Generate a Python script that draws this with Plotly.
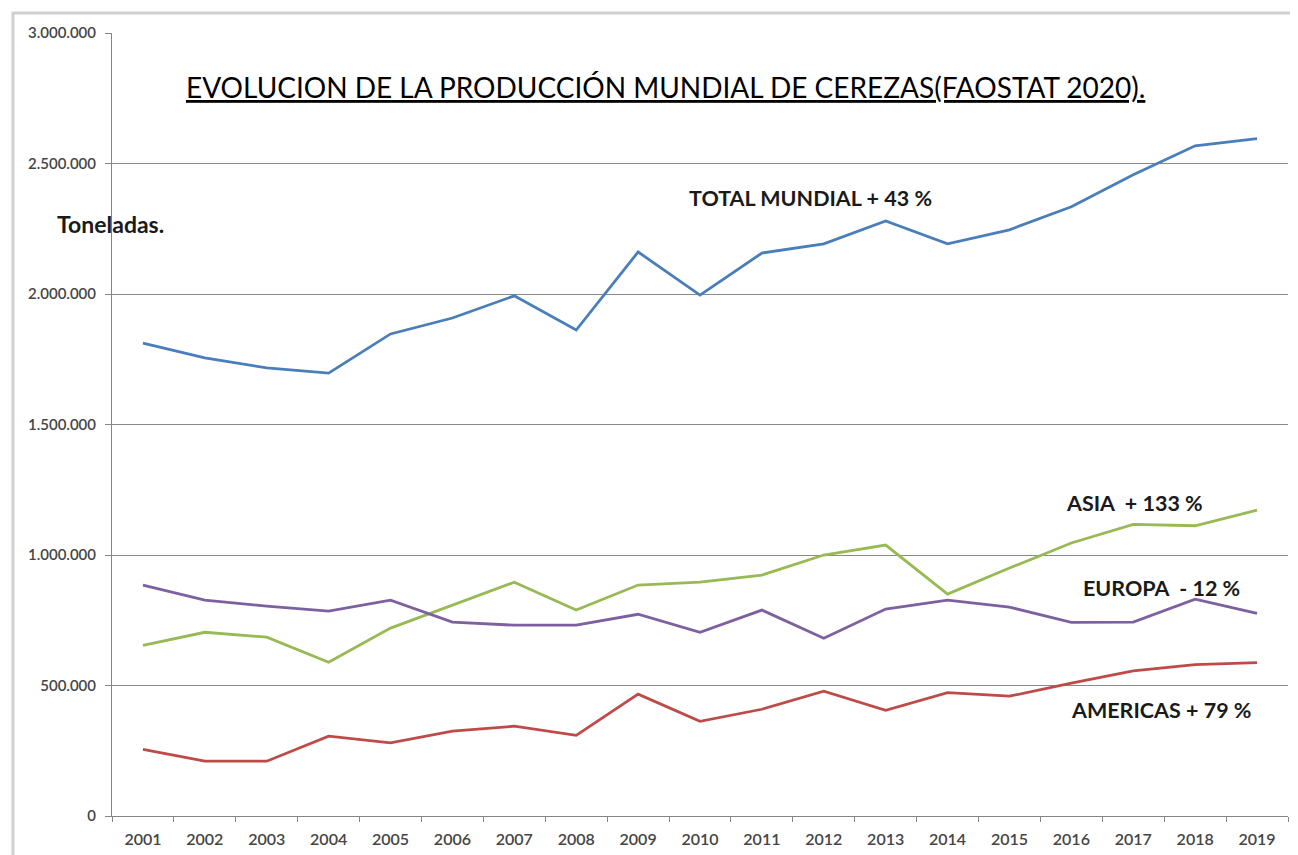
import plotly.graph_objects as go

years = [str(y) for y in range(2001, 2020)]
total_mundial = [1812000, 1755000, 1717000, 1697000, 1847000, 1908000, 1993000, 1862000, 2161000, 1996000,
                 2157000, 2192000, 2280000, 2192000, 2246000, 2334000, 2457000, 2568000, 2595000]
asia = [654000, 704000, 685000, 589000, 720000, 808000, 896000, 789000, 885000, 896000,
        923000, 1000000, 1038000, 850000, 950000, 1046000, 1117000, 1112000, 1172000]
europa = [885000, 827000, 804000, 785000, 827000, 743000, 731000, 731000, 773000, 704000,
          789000, 681000, 793000, 827000, 800000, 742000, 743000, 831000, 776000]
americas = [255000, 210000, 210000, 306000, 280000, 325000, 344000, 309000, 467000, 363000,
            409000, 478000, 405000, 473000, 459000, 509000, 556000, 580000, 588000]
y_ticks = [0, 500000, 1000000, 1500000, 2000000, 2500000, 3000000]

# page has an 8px body margin; the figure is sized to fit inside the window
OFF = 8
W, H = 1298 - OFF, 855 - OFF
# plot-area edges in window pixels
L, R, T, B = 112, 1288, 33, 815.7


def px(x):
    return (x - L) / (R - L)


def py(y):
    return (B - y) / (B - T)


FONT = "Lato"
fig = go.Figure()
series = [
    ("TOTAL MUNDIAL", total_mundial, "#4A7EBB"),
    ("ASIA", asia, "#98B954"),
    ("EUROPA", europa, "#7D60A0"),
    ("AMERICAS", americas, "#BE4B48"),
]
for name, vals, col in series:
    fig.add_trace(go.Scatter(x=years, y=vals, mode="lines", name=name,
                             line=dict(color=col, width=2.8), showlegend=False))

ann_style = dict(xref="paper", yref="paper", showarrow=False,
                 font=dict(family=FONT, size=21.5, color="#1a1a1a", weight="bold"))
annotations = [
    dict(text="EVOLUCION DE LA PRODUCCIÓN MUNDIAL DE CEREZAS(FAOSTAT 2020).",
         x=px(665), y=py(87), xanchor="center", yanchor="middle", xref="paper", yref="paper",
         showarrow=False,
         font=dict(family=FONT, size=28, color="#000000", lineposition="under")),
    dict(text="TOTAL MUNDIAL + 43 %", x=px(810), y=py(198), xanchor="center", yanchor="middle", **ann_style),
    dict(text="Toneladas.", x=px(110), y=py(224), xanchor="center", yanchor="middle",
         xref="paper", yref="paper", showarrow=False,
         font=dict(family=FONT, size=23, color="#1a1a1a", weight="bold")),
    dict(text="ASIA  + 133 %", x=px(1134), y=py(503), xanchor="center", yanchor="middle", **ann_style),
    dict(text="EUROPA  - 12 %", x=px(1161), y=py(588), xanchor="center", yanchor="middle", **ann_style),
    dict(text="AMERICAS + 79 %", x=px(1161), y=py(710), xanchor="center", yanchor="middle", **ann_style),
]

fig.update_layout(
    width=W, height=H,
    margin=dict(l=L - OFF, r=W - (R - OFF), t=T - OFF, b=H - (B - OFF), pad=0, autoexpand=False),
    paper_bgcolor="white", plot_bgcolor="white",
    separators=",.",
    annotations=annotations,
    shapes=[dict(type="rect", xref="paper", yref="paper",
                 x0=px(13), x1=px(1310), y0=py(13), y1=py(870),
                 line=dict(color="#d0d0d0", width=3), layer="below")],
    xaxis=dict(type="category", range=[-0.5, 18.5], tickson="boundaries",
               ticks="outside", ticklen=5, tickcolor="#868686",
               showline=True, linecolor="#868686", linewidth=1,
               showgrid=False, ticklabelstandoff=9, automargin=False,
               tickfont=dict(family=FONT, size=16, color="#454545", weight=600)),
    yaxis=dict(range=[0, 3000000], tickvals=y_ticks, tickformat=",d",
               ticks="outside", ticklen=6, tickcolor="#868686",
               showline=True, linecolor="#868686", linewidth=1,
               showgrid=True, gridcolor="#8a8a8a", gridwidth=1, zeroline=False,
               ticklabelstandoff=6, automargin=False,
               tickfont=dict(family=FONT, size=15, color="#454545", weight=600)),
)

fig.write_html("out.html")
